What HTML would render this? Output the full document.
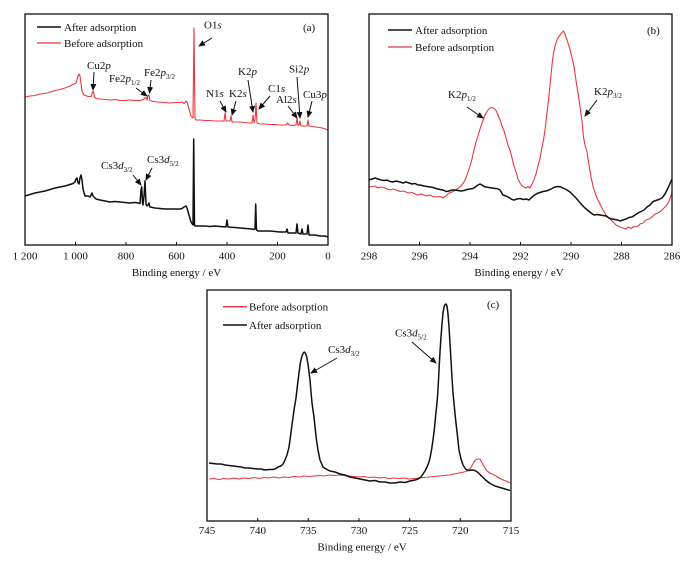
<!DOCTYPE html>
<html>
<head>
<meta charset="utf-8">
<style>
html,body{margin:0;padding:0;background:#fff;}
svg{display:block;}
text{font-family:"Liberation Serif","Noto Serif CJK SC",serif;font-size:11px;fill:#111;}
</style>
</head>
<body>
<svg width="698" height="561" viewBox="0 0 698 561" xmlns="http://www.w3.org/2000/svg">
<defs>
<marker id="ah" markerUnits="userSpaceOnUse" markerWidth="7" markerHeight="6" refX="6" refY="3" orient="auto">
<path d="M0,0 L7,3 L0,6 z" fill="#111"/>
</marker>
</defs>
<rect width="698" height="561" fill="#fff"/>

<!-- ================= Panel (a) ================= -->
<g fill="none" stroke-linejoin="round">
<polyline stroke="#e8383d" stroke-width="1.1" points="25,97 30,96 35,95.5 40,94 45,93.5 50,92 55,90.5 60,89.5 65,88 70,86 73,84.5 76,83 77,80 78,76 79,74 80,76 81,84 82,91 84,95 88,96.5 91,96.5 92.5,92 93.5,91.5 94.5,97 96,98.5 100,99 105,99.5 110,100 115,99.5 120,100.5 125,100.5 130,100 135,100.5 140,100.5 143,99.5 145,98 146,97.5 147,100 148,95.5 149,95 150,100.5 153,101.5 158,102 165,102.5 170,103 175,102.5 180,102.5 182,102 184,103.5 186,101 187,102 189,109 191,116 193,118 194,28 195,118 196,120 200,120 205,120.5 210,120.5 215,121 220,121 224,121 225,113 226,121 230,121 231,116 232,122 236,122 240,122 245,122.5 250,123 252,123 253,115 254,122.5 255,120 256,103 257,123 260,124 265,124 270,124.5 275,124.5 280,125 286,125 287.5,123 289,125 293,125.5 296,125 297,118 298,125.5 299,125 300,121 301,126 304,126 307,126 308,120 309,126 312,126.5 316,127 320,127.5 324,128.5 328,130"/>
<polyline stroke="#111" stroke-width="1.5" points="25,196 30,194.5 35,193 40,192 45,191 50,189.5 55,188 60,187 65,186 70,184.5 73,183.5 75,182 76,179 77,178 78,183 79,184 80,178 81,175 82,180 83,189 85,196 88,196 90,197 91,195 92,193 93,196 96,199 100,200 105,201 110,202 115,201.5 120,202 125,202.5 130,203 135,202.5 138,203 140,203.5 141,190 141.7,187 142.5,203 143,205 144,196 145,181 146,204 147,206 148,205 149,203 150,207 155,208 160,208.5 165,209 170,209 175,209 180,209 182,208.5 184,207 186,206 187,208 189,215 191,222 193,225 193.7,139 194.5,225 195,226 200,226 205,226 210,226.5 215,226 220,226.5 226,227 227,220 228,227 235,227.5 240,228 246,228.5 252,229 254,229.5 255,229 255.7,204 256.5,230 258,231 264,231 270,231 275,231.5 280,232 286,232 287,229 288,233 292,233 296,233 297,224 298,233 301,234 302,229 303,234 307,234 308,225 309,235 312,235 315,235 320,236 325,236 328,237"/>
</g>
<rect x="25" y="14" width="303" height="231" fill="none" stroke="#111" stroke-width="1.3"/>
<g stroke="#111" stroke-width="1">
<line x1="75.5" y1="245" x2="75.5" y2="242"/>
<line x1="126" y1="245" x2="126" y2="242"/>
<line x1="176.5" y1="245" x2="176.5" y2="242"/>
<line x1="227" y1="245" x2="227" y2="242"/>
<line x1="277.5" y1="245" x2="277.5" y2="242"/>
</g>
<g text-anchor="middle">
<text x="25" y="259.5">1 200</text>
<text x="75.5" y="259.5">1 000</text>
<text x="126" y="259.5">800</text>
<text x="176.5" y="259.5">600</text>
<text x="227" y="259.5">400</text>
<text x="277.5" y="259.5">200</text>
<text x="328" y="259.5">0</text>
<text x="176.5" y="276">Binding energy / eV</text>
</g>
<!-- legend a -->
<line x1="37" y1="27" x2="61" y2="27" stroke="#111" stroke-width="1.5"/>
<text x="64" y="31">After adsorption</text>
<line x1="37" y1="43" x2="61" y2="43" stroke="#e8383d" stroke-width="1.3"/>
<text x="64" y="47">Before adsorption</text>
<text x="303" y="31">(a)</text>
<!-- annotations a -->
<text x="204" y="28.5">O1<tspan font-style="italic">s</tspan></text>
<text x="87" y="69">Cu2<tspan font-style="italic">p</tspan></text>
<text x="109" y="82">Fe2<tspan font-style="italic">p</tspan><tspan font-size="7" dy="3">1/2</tspan></text>
<text x="144" y="76">Fe2<tspan font-style="italic">p</tspan><tspan font-size="7" dy="3">3/2</tspan></text>
<text x="238" y="75">K2<tspan font-style="italic">p</tspan></text>
<text x="268" y="92">C1<tspan font-style="italic">s</tspan></text>
<text x="206" y="97">N1<tspan font-style="italic">s</tspan></text>
<text x="229" y="97">K2<tspan font-style="italic">s</tspan></text>
<text x="276" y="103">Al2<tspan font-style="italic">s</tspan></text>
<text x="289" y="72.5">Si2<tspan font-style="italic">p</tspan></text>
<text x="303" y="98">Cu3<tspan font-style="italic">p</tspan></text>
<text x="101" y="169">Cs3<tspan font-style="italic">d</tspan><tspan font-size="7" dy="3">3/2</tspan></text>
<text x="147" y="163">Cs3<tspan font-style="italic">d</tspan><tspan font-size="7" dy="3">5/2</tspan></text>
<g stroke="#111" stroke-width="1" marker-end="url(#ah)">
<line x1="212" y1="38" x2="199" y2="46"/>
<line x1="94" y1="72" x2="93" y2="90"/>
<line x1="136" y1="88" x2="147" y2="96"/>
<line x1="151" y1="80" x2="149.5" y2="93"/>
<line x1="248" y1="80" x2="253" y2="112"/>
<line x1="270" y1="96" x2="259" y2="109"/>
<line x1="220" y1="101" x2="226" y2="112"/>
<line x1="236" y1="101" x2="232" y2="115"/>
<line x1="288" y1="106" x2="297" y2="118"/>
<line x1="297" y1="77" x2="300" y2="118"/>
<line x1="312" y1="101" x2="308" y2="117"/>
<line x1="133" y1="175" x2="141" y2="185"/>
<line x1="152" y1="168" x2="146" y2="180"/>
</g>

<!-- ================= Panel (b) ================= -->
<g fill="none" stroke-linejoin="round">
<polyline stroke="#e8383d" stroke-width="1.1" points="369,187 372,186.5 375,186 378,188 381,187 384,187.5 387,189 390,190 393,189 396,190 400,191.5 403,191 406,192 409,193 412,192.5 415,194 418,195 421,194 424,195 427,196 430,195 433,196.5 437,197 440,196.5 443,198 446,196 449,193 452,192 455,190.5 458,188.5 461,186 464,182 466,178 468,172 470,166 472,159 474,150 476,142 478,136 480,129 482,123 484,117.5 486,113 488,110 490,108 492,107.5 494,108.5 496,110.5 498,115 500,120 502,126 504,131 506,138 508,145 510,150 512,158 514,166 516,172 518,179 520,183 522,186 524,187 526,188 528,186.5 530,188 532,184 534,180 536,174 538,166 540,158 542,147 543.5,140 545,130 547,113 548.5,100 550,85 552,65 553.5,53 555,46 557,40 558.5,37 560,35 562,32.5 563.5,31 565,34 567,40 569,46 570.5,51 572,58 574,66 575.5,77 577,87 579,99 580.5,110 582,121 583.5,137 585,145 587,152 589,165 591,177 593,186 595,193 597,198 600,204 603,210 606,215 610,219 613,222 616,225 620,227 623,228 626,229 628,227 631,228.5 634,226.5 637,227 640,224 643,223 646,220 649,219 652,217 655,214 658,213 661,211 664,208 667,205 669,201 672,193"/>
<polyline stroke="#111" stroke-width="1.5" points="369,180 372,179 375,178 378,179 381,180 384,180.5 387,180 390,181.5 393,182 396,181 400,182 403,183 406,182 409,183 412,184 415,183.5 418,185 420,185 424,186 427,186.5 430,187 433,187.5 436,188.5 440,189.5 443,190 446,191.5 449,191 452,190 455,190 458,190.5 461,191 464,190.5 467,189.5 470,189 473,188.5 476,186.5 478,185 480,184 482,185 484,186.5 486,187 489,187.5 492,188 495,188.5 497,188.5 500,190 503,195 506,196 509,197.5 512,199.5 514,200 517,199 520,198.5 523,199.5 526,199 529,200 531,198 534,195.5 537,193.5 540,192.5 543,191.5 546,191 549,190 552,188.5 555,187 558,186.5 561,187 564,188.5 567,190 570,192 573,195 576,198 579,201.5 582,205 585,208 588,210.5 591,213 594,215 597,214.5 600,215 603,215.5 606,216 609,218 612,219 615,219.5 618,220 620,221 623,220 626,219 629,217.5 632,217 635,215 638,213 641,211.5 644,210 647,207 650,205 653,201.5 656,200.5 659,199.5 662,198 665,194 668,188 672,179"/>
</g>
<rect x="369" y="14" width="303" height="231" fill="none" stroke="#111" stroke-width="1.3"/>
<g stroke="#111" stroke-width="1">
<line x1="419.5" y1="245" x2="419.5" y2="242"/>
<line x1="470" y1="245" x2="470" y2="242"/>
<line x1="520.5" y1="245" x2="520.5" y2="242"/>
<line x1="571" y1="245" x2="571" y2="242"/>
<line x1="621.5" y1="245" x2="621.5" y2="242"/>
</g>
<g text-anchor="middle">
<text x="369" y="259.5">298</text>
<text x="419.5" y="259.5">296</text>
<text x="470" y="259.5">294</text>
<text x="520.5" y="259.5">292</text>
<text x="571" y="259.5">290</text>
<text x="621.5" y="259.5">288</text>
<text x="672" y="259.5">286</text>
<text x="519" y="276">Binding energy / eV</text>
</g>
<line x1="388" y1="30" x2="412" y2="30" stroke="#111" stroke-width="1.5"/>
<text x="415" y="34">After adsorption</text>
<line x1="388" y1="47" x2="412" y2="47" stroke="#e8383d" stroke-width="1.3"/>
<text x="415" y="51">Before adsorption</text>
<text x="647" y="34">(b)</text>
<text x="448" y="98">K2<tspan font-style="italic">p</tspan><tspan font-size="7" dy="3">1/2</tspan></text>
<text x="594" y="95">K2<tspan font-style="italic">p</tspan><tspan font-size="7" dy="3">3/2</tspan></text>
<g stroke="#111" stroke-width="1" marker-end="url(#ah)">
<line x1="467" y1="107" x2="483" y2="118"/>
<line x1="597" y1="100" x2="585" y2="116"/>
</g>

<!-- ================= Panel (c) ================= -->
<g fill="none" stroke-linejoin="round">
<polyline stroke="#e8383d" stroke-width="1.1" points="209,479 214,478.5 219,479.5 224,478.5 229,479 234,478 239,479 244,478 249,478.5 254,477.5 259,478.5 264,477.5 269,478 274,477 279,478 284,477 289,477.5 294,476.5 299,477 304,476 309,476.5 314,476 319,475.5 324,476 329,475 334,475.5 339,475 344,475.5 349,476 354,476.5 359,477 364,476.5 369,477.5 374,477 379,478 384,477.5 389,478.5 394,478 399,478.5 404,478 409,479 414,478.5 419,478 424,477.5 429,477 434,476.5 439,476 444,475.5 449,475 454,474 459,473 464,472 467,471 470,469 472,465.5 474,462 476,459.5 478,459 480,459 481,461 483,464.5 485,468 487,471 490,473 493,474.5 496,476 499,478 502,479.5 506,481 510,483"/>
<polyline stroke="#111" stroke-width="1.5" points="209,463 213,463.5 217,464 221,464 225,465 229,465.5 233,466 237,466.5 241,467 245,468 249,468 253,468.5 257,469 261,469 265,470 269,469.5 273,469.5 276,468.5 278,467 281,466 283,464 285,460 287,455 289,447 290,440 292,425 294,410 296,398 297.5,385 299,373 300.5,362 302,356 303.3,353 304.3,352 305.3,353 306.5,356 308,364 309,372 310,380 311,392 312,403 313,410 314,417 315,427 316.5,440 318,450 320,460 323,467 326,469 330,471 335,472 340,474 345,475 350,477 355,478 360,479 365,480 370,481 375,480.5 380,482 385,482 390,483 395,483 400,482 405,482.5 410,481 415,480 418,479 421,477 423,474 425,471 427,467 429,462 430,458 431.5,450 433,440 434.5,428 436,412 437,403 438,390 439,370 440,352 441,337 442,324 443,313 444,307 445,304.5 446,304 447,306 448,314 449,327 450,343 451,360 452,378 453,393 454,403 455,414 456,423 457.5,436 459,450 461,459 463,465 466,469.5 469,470.5 472,470 475,470.5 478,472.5 481,475.5 485,479.5 490,483.5 495,486 500,487.5 505,489 510,490.5"/>
</g>
<rect x="207" y="290" width="304" height="231" fill="none" stroke="#111" stroke-width="1.3"/>
<g stroke="#111" stroke-width="1">
<line x1="257.7" y1="521" x2="257.7" y2="518"/>
<line x1="308.3" y1="521" x2="308.3" y2="518"/>
<line x1="359" y1="521" x2="359" y2="518"/>
<line x1="409.7" y1="521" x2="409.7" y2="518"/>
<line x1="460.3" y1="521" x2="460.3" y2="518"/>
</g>
<g text-anchor="middle">
<text x="207" y="534">745</text>
<text x="257.7" y="534">740</text>
<text x="308.3" y="534">735</text>
<text x="359" y="534">730</text>
<text x="409.7" y="534">725</text>
<text x="460.3" y="534">720</text>
<text x="511" y="534">715</text>
<text x="362" y="550.5">Binding energy / eV</text>
</g>
<line x1="223" y1="306.7" x2="247" y2="306.7" stroke="#e8383d" stroke-width="1.3"/>
<text x="249" y="310.7">Before adsorption</text>
<line x1="223" y1="325" x2="247" y2="325" stroke="#111" stroke-width="1.5"/>
<text x="249" y="329">After adsorption</text>
<text x="487" y="308">(c)</text>
<text x="328" y="353">Cs3<tspan font-style="italic">d</tspan><tspan font-size="7" dy="3">3/2</tspan></text>
<text x="395" y="336.5">Cs3<tspan font-style="italic">d</tspan><tspan font-size="7" dy="3">5/2</tspan></text>
<g stroke="#111" stroke-width="1" marker-end="url(#ah)">
<line x1="337" y1="358" x2="311" y2="373"/>
<line x1="412" y1="342" x2="436" y2="363"/>
</g>
</svg>
</body>
</html>
